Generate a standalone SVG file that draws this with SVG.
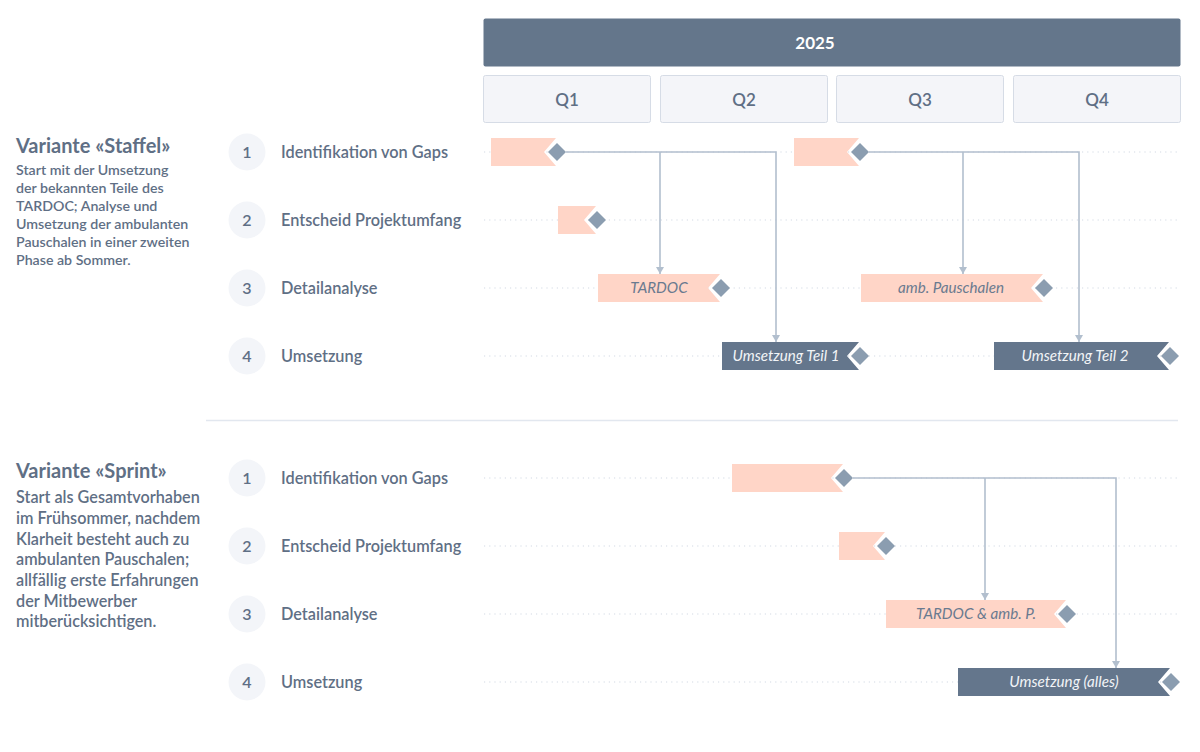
<svg xmlns="http://www.w3.org/2000/svg" width="1200" height="752" viewBox="0 0 1200 752">
<style>
text{font-family:Lato,"Source Sans Pro","Liberation Sans",sans-serif}
.h{font-size:20px;font-weight:700;fill:#5f6f85}
.b1{font-size:14.2px;font-weight:600;fill:#5f6f85}
.b2{font-size:16.2px;font-weight:600;fill:#5f6f85}
.lab{font-size:16.3px;font-weight:600;fill:#5f6f85}
.num{font-size:16px;font-weight:600;fill:#5f6f85;text-anchor:middle}
.circ{fill:#f3f5f9}
.q{fill:#f4f5f9;stroke:#d6dce6;stroke-width:1}
.qt{font-size:17px;font-weight:600;fill:#5f6f85;text-anchor:middle}
.yr{font-size:17px;font-weight:700;fill:#ffffff;text-anchor:middle}
.dot{stroke:#d3dae4;stroke-width:1.2;stroke-dasharray:1.2 4;fill:none}
.pink{fill:#ffd5c7}
.dark{fill:#64768c}
.dia{fill:#8b9db0}
.bt{font-size:15.2px;font-style:italic;text-anchor:middle}
.btp{fill:#6a7a8f}
.btd{fill:#f2f4f7}
.con{stroke:#b2bfce;stroke-width:1.6;fill:none}
</style>
<defs>
<marker id="arr" markerUnits="userSpaceOnUse" markerWidth="9" markerHeight="9" refX="7" refY="4" orient="auto">
<path d="M0,0 L7,4 L0,8 z" fill="#b2bfce"/>
</marker>
</defs>

<g id="header">
<rect x="483.5" y="18.5" width="697" height="48" rx="2" fill="#64768b"/>
<text class="yr" x="815" y="49">2025</text>
<rect class="q" x="483.5" y="75.5" width="167" height="47" rx="2"/>
<text class="qt" x="567" y="106">Q1</text>
<rect class="q" x="660.5" y="75.5" width="167" height="47" rx="2"/>
<text class="qt" x="744" y="106">Q2</text>
<rect class="q" x="836.5" y="75.5" width="167" height="47" rx="2"/>
<text class="qt" x="920" y="106">Q3</text>
<rect class="q" x="1013.5" y="75.5" width="167" height="47" rx="2"/>
<text class="qt" x="1097" y="106">Q4</text>
</g>

<g id="variant-staffel-text">
<text class="h" x="16" y="153">Variante «Staffel»</text>
<text class="b1" x="16" y="175">Start mit der Umsetzung</text>
<text class="b1" x="16" y="193">der bekannten Teile des</text>
<text class="b1" x="16" y="211">TARDOC; Analyse und</text>
<text class="b1" x="16" y="229">Umsetzung der ambulanten</text>
<text class="b1" x="16" y="247">Pauschalen in einer zweiten</text>
<text class="b1" x="16" y="265">Phase ab Sommer.</text>
</g>

<g id="variant-sprint-text">
<text class="h" x="16" y="478">Variante «Sprint»</text>
<text class="b2" x="16" y="503">Start als Gesamtvorhaben</text>
<text class="b2" x="16" y="524">im Frühsommer, nachdem</text>
<text class="b2" x="16" y="544.5">Klarheit besteht auch zu</text>
<text class="b2" x="16" y="565">ambulanten Pauschalen;</text>
<text class="b2" x="16" y="586">allfällig erste Erfahrungen</text>
<text class="b2" x="16" y="606.5">der Mitbewerber</text>
<text class="b2" x="16" y="627">mitberücksichtigen.</text>
</g>

<line x1="206" y1="420.5" x2="1178" y2="420.5" stroke="#e2e7ef" stroke-width="1.5"/>

<g id="rows-staffel">
<g id="s-row1"><circle class="circ" cx="247" cy="152" r="18.5"/><text class="num" x="247" y="158">1</text><text class="lab" x="281" y="158">Identifikation von Gaps</text></g>
<g id="s-row2"><circle class="circ" cx="247" cy="220" r="18.5"/><text class="num" x="247" y="226">2</text><text class="lab" x="281" y="226">Entscheid Projektumfang</text></g>
<g id="s-row3"><circle class="circ" cx="247" cy="288" r="18.5"/><text class="num" x="247" y="294">3</text><text class="lab" x="281" y="294">Detailanalyse</text></g>
<g id="s-row4"><circle class="circ" cx="247" cy="356" r="18.5"/><text class="num" x="247" y="362">4</text><text class="lab" x="281" y="362">Umsetzung</text></g>
</g>

<g id="rows-sprint">
<g id="p-row1"><circle class="circ" cx="247" cy="478" r="18.5"/><text class="num" x="247" y="484">1</text><text class="lab" x="281" y="484">Identifikation von Gaps</text></g>
<g id="p-row2"><circle class="circ" cx="247" cy="546" r="18.5"/><text class="num" x="247" y="552">2</text><text class="lab" x="281" y="552">Entscheid Projektumfang</text></g>
<g id="p-row3"><circle class="circ" cx="247" cy="614" r="18.5"/><text class="num" x="247" y="620">3</text><text class="lab" x="281" y="620">Detailanalyse</text></g>
<g id="p-row4"><circle class="circ" cx="247" cy="682" r="18.5"/><text class="num" x="247" y="688">4</text><text class="lab" x="281" y="688">Umsetzung</text></g>
</g>

<g id="gridlines">
<line class="dot" x1="484" y1="152" x2="1180" y2="152"/>
<line class="dot" x1="484" y1="220" x2="1180" y2="220"/>
<line class="dot" x1="484" y1="288" x2="1180" y2="288"/>
<line class="dot" x1="484" y1="356" x2="1180" y2="356"/>
<line class="dot" x1="484" y1="478" x2="1180" y2="478"/>
<line class="dot" x1="484" y1="546" x2="1180" y2="546"/>
<line class="dot" x1="484" y1="614" x2="1180" y2="614"/>
<line class="dot" x1="484" y1="682" x2="1180" y2="682"/>
</g>

<g id="connectors">
<path class="con" d="M566 152 H776 V342" marker-end="url(#arr)"/>
<path class="con" d="M660 152 V274" marker-end="url(#arr)"/>
<path class="con" d="M869 152 H1079 V342" marker-end="url(#arr)"/>
<path class="con" d="M963 152 V274" marker-end="url(#arr)"/>
<path class="con" d="M853 478 H1116 V668" marker-end="url(#arr)"/>
<path class="con" d="M985 478 V600" marker-end="url(#arr)"/>
</g>

<g id="bar-s1a"><polygon class="pink" points="491,138 556,138 544,152 556,166 491,166"/><polygon class="dia" points="557,143 566,152 557,161 548,152"/></g>
<g id="bar-s1b"><polygon class="pink" points="794,138 859,138 847,152 859,166 794,166"/><polygon class="dia" points="860,143 869,152 860,161 851,152"/></g>
<g id="bar-s2"><polygon class="pink" points="558,206 596,206 584,220 596,234 558,234"/><polygon class="dia" points="597,211 606,220 597,229 588,220"/></g>
<g id="bar-s3a"><polygon class="pink" points="598,274 720,274 708,288 720,302 598,302"/><polygon class="dia" points="721,279 730,288 721,297 712,288"/><text class="bt btp" x="659" y="293">TARDOC</text></g>
<g id="bar-s3b"><polygon class="pink" points="861,274 1043,274 1031,288 1043,302 861,302"/><polygon class="dia" points="1044,279 1053,288 1044,297 1035,288"/><text class="bt btp" x="951" y="293">amb. Pauschalen</text></g>
<g id="bar-s4a"><polygon class="dark" points="722,342 859,342 847,356 859,370 722,370"/><polygon class="dia" points="860,347 869,356 860,365 851,356"/><text class="bt btd" x="786" y="361">Umsetzung Teil 1</text></g>
<g id="bar-s4b"><polygon class="dark" points="994,342 1169,342 1157,356 1169,370 994,370"/><polygon class="dia" points="1170,347 1179,356 1170,365 1161,356"/><text class="bt btd" x="1075" y="361">Umsetzung Teil 2</text></g>

<g id="bar-p1"><polygon class="pink" points="732,464 843,464 831,478 843,492 732,492"/><polygon class="dia" points="844,469 853,478 844,487 835,478"/></g>
<g id="bar-p2"><polygon class="pink" points="839,532 885,532 873,546 885,560 839,560"/><polygon class="dia" points="886,537 895,546 886,555 877,546"/></g>
<g id="bar-p3"><polygon class="pink" points="886,600 1066,600 1054,614 1066,628 886,628"/><polygon class="dia" points="1067,605 1076,614 1067,623 1058,614"/><text class="bt btp" x="976" y="619">TARDOC &amp; amb. P.</text></g>
<g id="bar-p4"><polygon class="dark" points="958,668 1170,668 1158,682 1170,696 958,696"/><polygon class="dia" points="1171,673 1180,682 1171,691 1162,682"/><text class="bt btd" x="1064" y="687">Umsetzung (alles)</text></g>
</svg>
